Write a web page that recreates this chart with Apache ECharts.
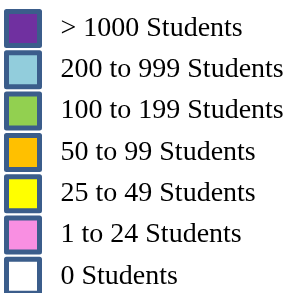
<!DOCTYPE html>
<html>
<head>
<meta charset="utf-8">
<script src="https://cdn.jsdelivr.net/npm/echarts@6/dist/echarts.min.js"></script>
<style>
  html, body { margin: 0; padding: 0; background: #fff; }
  #chart { width: 291px; height: 293px; }
</style>
</head>
<body>
<div id="chart"></div>
<script>
// legend categories, top to bottom
const categories = ['> 1000 Students', '200 to 999 Students', '100 to 199 Students',
  '50 to 99 Students', '25 to 49 Students', '1 to 24 Students', '0 Students']
const colors = ['#7030a0', '#92cddc', '#92d050', '#ffc000', '#ffff00', '#f98fe2', '#ffffff']

const chart = echarts.init(document.getElementById('chart'))

// empty series, only there so the legend has something to list
let series = []
for (let i = 0; i < categories.length; i++) {
  series.push({
    name: categories[i],
    type: 'scatter',
    data: [],
    itemStyle: { color: colors[i], opacity: 1 }
  })
}

chart.setOption({
  animation: false,
  xAxis: { show: false },
  yAxis: { show: false },
  grid: { left: 0, right: 0, top: 0, bottom: 0 },
  legend: {
    orient: 'vertical',
    left: 4,
    top: 9,
    height: 320,
    padding: 0,
    itemGap: 2.3,
    itemWidth: 33,
    itemHeight: 34,
    icon: 'rect',
    selectedMode: false,
    itemStyle: {
      opacity: 1,
      borderColor: '#3b5d8b',
      borderWidth: 5,
      borderJoin: 'round'
    },
    textStyle: {
      fontFamily: 'Liberation Serif',
      fontSize: 28,
      color: '#000',
      padding: [4, 0, 0, 16]
    },
    data: categories
  },
  series: series
})
</script>
</body>
</html>
